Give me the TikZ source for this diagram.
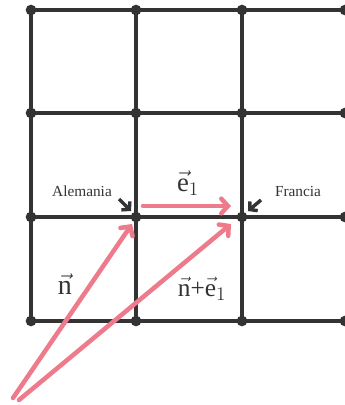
\documentclass[tikz,border=0pt]{standalone}
\usepackage{fontspec}
\setmainfont{Liberation Serif}
\usetikzlibrary{arrows.meta}
\definecolor{gridc}{HTML}{333333}
\definecolor{pinkv}{HTML}{EE7B8B}
\newcommand\vx[1]{$\vec{\mbox{#1}}$}
\begin{document}
\begin{tikzpicture}[x=0.75pt,y=-0.75pt,
  gridline/.style={draw=gridc,line width=2.7pt},
  dot/.style={circle,fill=gridc,inner sep=0pt,minimum size=8pt},
  vecarrow/.style={draw=pinkv,line width=3.4pt,line cap=round,-{Straight Barb[length=5pt,width=11pt,line cap=round]}},
  pointer/.style={draw=gridc,line width=2.6pt,-{Straight Barb[length=4pt,width=9pt]}},
  lbl/.style={text=gridc,font=\fontsize{11.5}{12}\selectfont,inner sep=0pt},
  mlbl/.style={text=gridc,inner sep=0pt}]
\useasboundingbox (0,0) rectangle (345,405);
\clip (0,0) rectangle (345,405);
% grid points
\foreach \i/\x in {0/31,1/136,2/242,3/345}{
  \foreach \j/\y in {0/10,1/113,2/217,3/321}{
    \coordinate (p\i\j) at (\x,\y);
  }
}
% lines
\foreach \j in {0,1,2,3}{ \draw[gridline] (p0\j) -- (p3\j); }
\foreach \i in {0,1,2}{ \draw[gridline] (p\i0) -- (p\i3); }
\foreach \i in {0,1,2,3}{ \foreach \j in {0,1,2,3}{ \node[dot] at (p\i\j) {}; } }
% labels
\node[lbl] (ale) at (82,191) {Alemania};
\node[lbl] (fra) at (298,191) {Francia};
\node[mlbl,font=\fontsize{20}{21}\selectfont] (e1) at (188,183) {\vx{e}$_1$};
\node[mlbl,font=\fontsize{21}{22}\selectfont] (nl) at (65,284) {\vx{n}};
\node[mlbl,font=\fontsize{19}{20}\selectfont] (ne) at (202,289) {\vx{n}+\vx{e}$_1$};
% pointers
\coordinate (a1) at (119,199);
\coordinate (a2) at (131,211);
\coordinate (f1) at (261,200);
\coordinate (f2) at (248,211);
\draw[pointer] (a1) -- (a2);
\draw[pointer] (f1) -- (f2);
% vectors
\coordinate (s1) at (13,398);
\coordinate (s2) at (19,400);
\coordinate (t1) at (132,224);
\coordinate (t2) at (231,224);
\coordinate (e1s) at (143,206);
\coordinate (e1t) at (231,206);
\draw[vecarrow] (e1s) -- (e1t);
\draw[vecarrow] (s1) -- (t1);
\draw[vecarrow] (s2) -- (t2);
\end{tikzpicture}
\end{document}
